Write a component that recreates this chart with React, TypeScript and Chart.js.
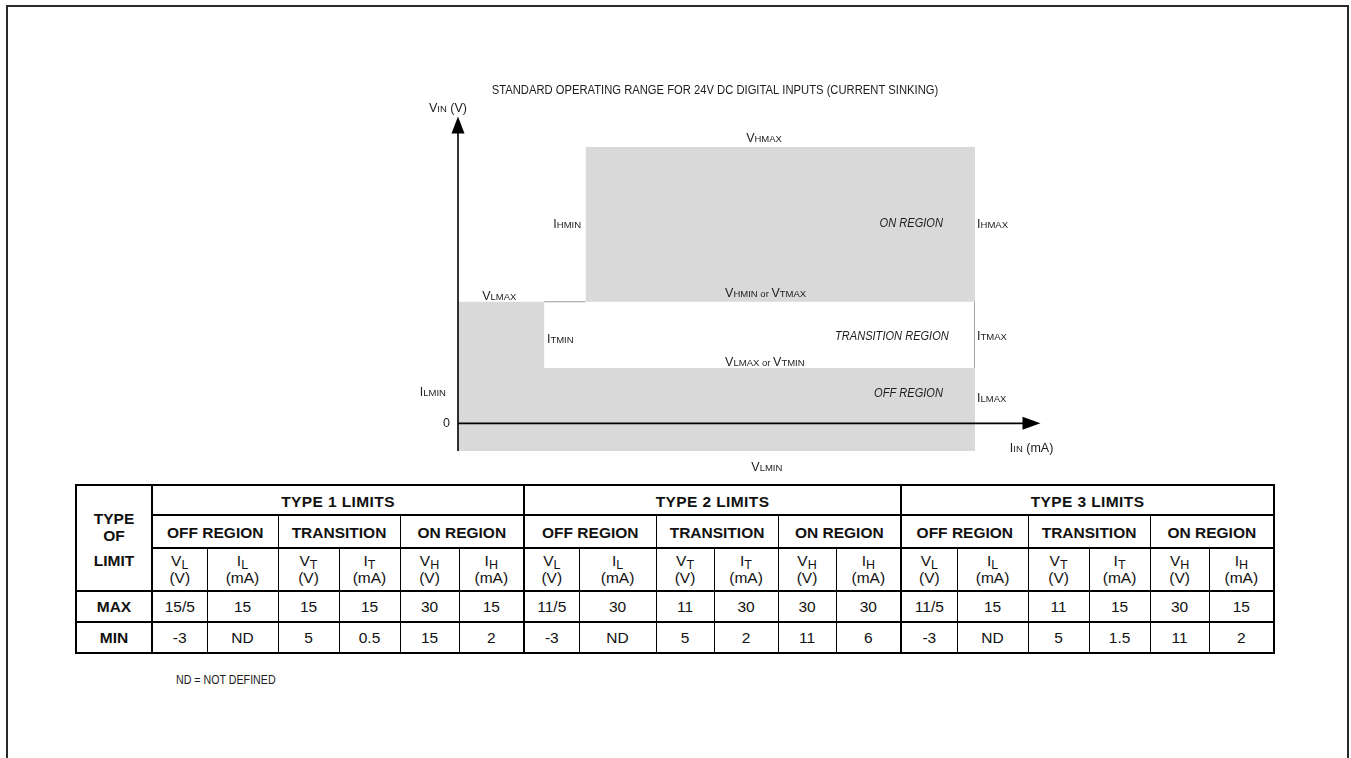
import React, { useEffect, useRef } from "react";
import { Chart, registerables } from "chart.js";

Chart.register(...registerables);

// ---- Diagram data (schematic values) ----
const offRegionX = [0, 2.5, 2.5, 15];
const offRegionTop = [13.2, 13.2, 6, 6];
const offRegionBottom = -3;
const onRegionX = [3.7, 15];
const onRegionTop = [30, 30];
const onRegionBottom = 13.2;
const transitionTopX = [2.5, 3.7];
const transitionTopY = [13.2, 13.2];
const transitionRightX = [15, 15];
const transitionRightY = [13.2, 6];
const axisEndX = 16.9;
const axisEndY = 33.3;

// ---- Table data ----
const typeGroups = ["TYPE 1 LIMITS", "TYPE 2 LIMITS", "TYPE 3 LIMITS"];
const regionNames = ["OFF REGION", "TRANSITION", "ON REGION"];
const paramSymbols = ["V", "I", "V", "I", "V", "I"];
const paramSubs = ["L", "L", "T", "T", "H", "H"];
const paramUnits = ["(V)", "(mA)", "(V)", "(mA)", "(V)", "(mA)"];
const maxRow = ["15/5", "15", "15", "15", "30", "15", "11/5", "30", "11", "30", "30", "30", "11/5", "15", "11", "15", "30", "15"];
const minRow = ["-3", "ND", "5", "0.5", "15", "2", "-3", "ND", "5", "2", "11", "6", "-3", "ND", "5", "1.5", "11", "2"];
const colWidths = [76, 55, 71, 61, 61, 59, 65, 55, 77, 58, 64, 58, 65, 56, 71, 61, 61, 59, 65];

const SANS = '"Liberation Sans", Arial, Helvetica, sans-serif';
const GRAY = "#d9d9d9";
const INK = "#1c1c1c";
const NARROW_SCALE = 0.82;

type Seg = [string, string, number];
const BIG = `12.5px ${SANS}`;
const SM = `9.5px ${SANS}`;
const IT = `italic 13.5px ${SANS}`;

const labels: { x: number; y: number; align: "left" | "right" | "center"; segs: Seg[] }[] = [
  { x: 0.26, y: 33.8, align: "right", segs: [["V", BIG, 1], ["IN", SM, 1], [" (V)", BIG, 1]] },
  { x: 8.88, y: 30.5, align: "center", segs: [["V", BIG, 1], ["HMAX", SM, 1]] },
  { x: 3.57, y: 21.17, align: "right", segs: [["I", BIG, 1], ["HMIN", SM, 1]] },
  { x: 14.07, y: 21.28, align: "right", segs: [["ON REGION", IT, NARROW_SCALE]] },
  { x: 15.06, y: 21.17, align: "left", segs: [["I", BIG, 1], ["HMAX", SM, 1]] },
  { x: 0.7, y: 13.35, align: "left", segs: [["V", BIG, 1], ["LMAX", SM, 1]] },
  { x: 7.75, y: 13.68, align: "left", segs: [["V", BIG, 1], ["HMIN", SM, 1], [" or ", SM, 1], ["V", BIG, 1], ["TMAX", SM, 1]] },
  { x: 2.58, y: 8.68, align: "left", segs: [["I", BIG, 1], ["TMIN", SM, 1]] },
  { x: 14.24, y: 9.01, align: "right", segs: [["TRANSITION REGION", IT, NARROW_SCALE]] },
  { x: 15.06, y: 9.01, align: "left", segs: [["I", BIG, 1], ["TMAX", SM, 1]] },
  { x: 7.75, y: 6.19, align: "left", segs: [["V", BIG, 1], ["LMAX", SM, 1], [" or ", SM, 1], ["V", BIG, 1], ["TMIN", SM, 1]] },
  { x: -0.35, y: 2.93, align: "right", segs: [["I", BIG, 1], ["LMIN", SM, 1]] },
  { x: 14.07, y: 2.82, align: "right", segs: [["OFF REGION", IT, NARROW_SCALE]] },
  { x: 15.06, y: 2.28, align: "left", segs: [["I", BIG, 1], ["LMAX", SM, 1]] },
  { x: -0.23, y: -0.43, align: "right", segs: [["0", BIG, 1]] },
  { x: 16.01, y: -3.15, align: "left", segs: [["I", BIG, 1], ["IN", SM, 1], [" (mA)", BIG, 1]] },
  { x: 8.96, y: -5.21, align: "center", segs: [["V", BIG, 1], ["LMIN", SM, 1]] },
];

const TITLE = "STANDARD OPERATING RANGE FOR 24V DC DIGITAL INPUTS (CURRENT SINKING)";

const CW = 1351;
const CH = 480;

const decorPlugin = {
  id: "decor",
  afterDraw(chart: any) {
    const ctx = chart.ctx as CanvasRenderingContext2D;
    const xs = chart.scales.x;
    const ys = chart.scales.y;
    const X = (v: number) => xs.getPixelForValue(v);
    const Y = (v: number) => ys.getPixelForValue(v);
    ctx.save();
    ctx.strokeStyle = "#000";
    ctx.fillStyle = "#000";
    ctx.lineWidth = 1.6;
    const x0 = X(0);
    const y0 = Y(0);
    const yTip = Y(axisEndY);
    const xTip = X(axisEndX);
    ctx.beginPath();
    ctx.moveTo(x0, Y(offRegionBottom));
    ctx.lineTo(x0, yTip + 10);
    ctx.stroke();
    ctx.beginPath();
    ctx.moveTo(x0, y0);
    ctx.lineTo(xTip - 10, y0);
    ctx.stroke();
    ctx.beginPath();
    ctx.moveTo(x0, yTip);
    ctx.lineTo(x0 - 6.5, yTip + 17);
    ctx.lineTo(x0 + 6.5, yTip + 17);
    ctx.closePath();
    ctx.fill();
    ctx.beginPath();
    ctx.moveTo(xTip, y0);
    ctx.lineTo(xTip - 18, y0 - 6.5);
    ctx.lineTo(xTip - 18, y0 + 6.5);
    ctx.closePath();
    ctx.fill();

    ctx.fillStyle = INK;
    ctx.textAlign = "left";
    ctx.textBaseline = "alphabetic";

    // title (narrow)
    ctx.font = `13.7px ${SANS}`;
    const tw = ctx.measureText(TITLE).width * NARROW_SCALE;
    ctx.save();
    ctx.translate(715 - tw / 2, 94);
    ctx.scale(NARROW_SCALE, 1);
    ctx.fillText(TITLE, 0, 0);
    ctx.restore();

    for (const lb of labels) {
      let w = 0;
      for (const [t, f, s] of lb.segs) {
        ctx.font = f;
        w += ctx.measureText(t).width * s;
      }
      let px = X(lb.x);
      if (lb.align === "right") px -= w;
      else if (lb.align === "center") px -= w / 2;
      const py = Y(lb.y);
      for (const [t, f, s] of lb.segs) {
        ctx.font = f;
        ctx.save();
        ctx.translate(px, py);
        ctx.scale(s, 1);
        ctx.fillText(t, 0, 0);
        ctx.restore();
        px += ctx.measureText(t).width * s;
      }
    }
    ctx.restore();
  },
};

function toPts(xsArr: number[], ysArr: number[]) {
  return xsArr.map((x, i) => ({ x, y: ysArr[i] }));
}

function Diagram() {
  const ref = useRef<HTMLCanvasElement | null>(null);
  useEffect(() => {
    if (!ref.current) return;
    const chart = new Chart(ref.current, {
      type: "line",
      data: {
        datasets: [
          {
            data: toPts(offRegionX, offRegionTop),
            backgroundColor: GRAY,
            borderWidth: 0,
            borderColor: GRAY,
            pointRadius: 0,
            fill: { value: offRegionBottom },
          } as any,
          {
            data: toPts(onRegionX, onRegionTop),
            backgroundColor: GRAY,
            borderWidth: 0,
            borderColor: GRAY,
            pointRadius: 0,
            fill: { value: onRegionBottom },
          } as any,
          {
            data: toPts(transitionTopX, transitionTopY),
            borderColor: "#9a9a9a",
            borderWidth: 1,
            pointRadius: 0,
            fill: false,
          },
          {
            data: toPts(transitionRightX, transitionRightY),
            borderColor: "#9a9a9a",
            borderWidth: 1,
            pointRadius: 0,
            fill: false,
          },
        ],
      },
      options: {
        animation: false,
        responsive: false,
        devicePixelRatio: 1,
        layout: { padding: { left: 458, right: CW - 975, top: 147, bottom: CH - 451 } },
        scales: {
          x: { type: "linear", min: 0, max: 15, display: false },
          y: { type: "linear", min: -3, max: 30, display: false },
        },
        plugins: { legend: { display: false }, tooltip: { enabled: false }, title: { display: false } },
        elements: { line: { tension: 0 } },
      },
      plugins: [decorPlugin],
    });
    return () => chart.destroy();
  }, []);
  return <canvas ref={ref} width={CW} height={CH} style={{ position: "absolute", left: 0, top: 0 }} />;
}

const cellBase: React.CSSProperties = {
  border: "1px solid #000",
  borderTopWidth: 2,
  borderBottomWidth: 2,
  textAlign: "center",
  verticalAlign: "middle",
  padding: 0,
  color: "#111",
};

function groupLeft(i: number): React.CSSProperties {
  return i % 6 === 0 ? { borderLeftWidth: 2.5 } : {};
}

function LimitsTable() {
  return (
    <table
      style={{
        position: "absolute",
        left: 75,
        top: 484,
        width: 1198,
        borderCollapse: "collapse",
        tableLayout: "fixed",
        fontFamily: SANS,
        fontSize: 15.5,
        lineHeight: "17px",
        border: "2.5px solid #000",
      }}
    >
      <colgroup>
        {colWidths.map((w, i) => (
          <col key={i} style={{ width: w }} />
        ))}
      </colgroup>
      <tbody>
        <tr style={{ height: 30 }}>
          <td
            rowSpan={3}
            style={{ ...cellBase, borderRightWidth: 2.5, fontWeight: "bold", verticalAlign: "top", paddingTop: 24 }}
          >
            <div>TYPE</div>
            <div>OF</div>
            <div style={{ marginTop: 8 }}>LIMIT</div>
          </td>
          {typeGroups.map((g) => (
            <td
              key={g}
              colSpan={6}
              style={{ ...cellBase, borderLeftWidth: 2.5, fontWeight: "bold", paddingTop: 2, letterSpacing: 0.4 }}
            >
              {g}
            </td>
          ))}
        </tr>
        <tr style={{ height: 33 }}>
          {typeGroups.flatMap((g) =>
            regionNames.map((r, ri) => (
              <td
                key={g + r}
                colSpan={2}
                style={{ ...cellBase, ...(ri === 0 ? { borderLeftWidth: 2.5 } : {}), fontWeight: "bold", paddingTop: 2 }}
              >
                {r}
              </td>
            ))
          )}
        </tr>
        <tr style={{ height: 43 }}>
          {typeGroups.flatMap((g) =>
            paramSymbols.map((s, pi) => (
              <td key={g + pi} style={{ ...cellBase, ...groupLeft(pi), lineHeight: "16px" }}>
                <div>
                  {s}
                  <span style={{ fontSize: 12.5, position: "relative", top: 3 }}>{paramSubs[pi]}</span>
                </div>
                <div>{paramUnits[pi]}</div>
              </td>
            ))
          )}
        </tr>
        <tr style={{ height: 31 }}>
          <td style={{ ...cellBase, borderRightWidth: 2.5, fontWeight: "bold" }}>MAX</td>
          {maxRow.map((v, i) => (
            <td key={i} style={{ ...cellBase, ...groupLeft(i) }}>
              {v}
            </td>
          ))}
        </tr>
        <tr style={{ height: 31 }}>
          <td style={{ ...cellBase, borderRightWidth: 2.5, fontWeight: "bold" }}>MIN</td>
          {minRow.map((v, i) => (
            <td key={i} style={{ ...cellBase, ...groupLeft(i) }}>
              {v}
            </td>
          ))}
        </tr>
      </tbody>
    </table>
  );
}

export default function App() {
  return (
    <div
      style={{
        position: "fixed",
        left: 0,
        top: 0,
        width: 1351,
        height: 758,
        background: "#fff",
        overflow: "hidden",
      }}
    >
      <div
        style={{
          position: "absolute",
          left: 6,
          top: 5,
          width: 1343,
          height: 900,
          boxSizing: "border-box",
          border: "2px solid #2a2a2a",
        }}
      />
      <Diagram />
      <LimitsTable />
      <div
        style={{
          position: "absolute",
          left: 176,
          top: 672,
          fontFamily: SANS,
          fontSize: 13,
          color: INK,
          whiteSpace: "nowrap",
          transform: `scaleX(${NARROW_SCALE})`,
          transformOrigin: "left top",
        }}
      >
        ND = NOT DEFINED
      </div>
    </div>
  );
}
